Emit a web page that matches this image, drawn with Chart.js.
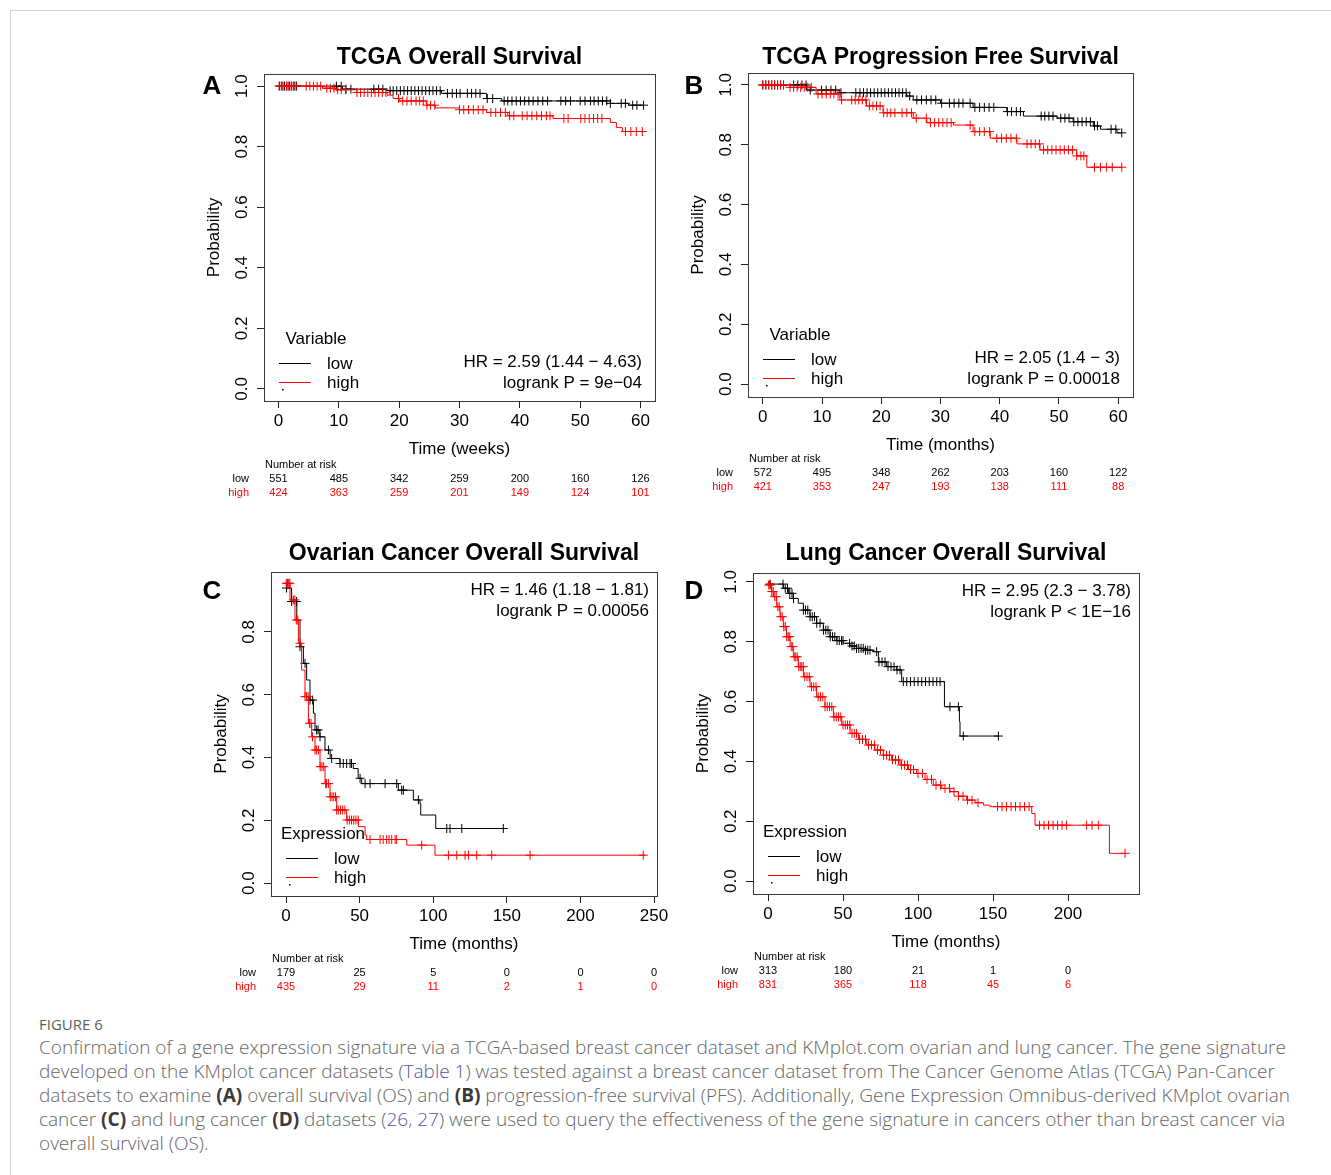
<!DOCTYPE html>
<html>
<head>
<meta charset="utf-8">
<script src="https://cdn.jsdelivr.net/npm/chart.js@4.4.1/dist/chart.umd.min.js"></script>
<style>
  html, body { margin: 0; padding: 0; background: #fff; }
  body { width: 1331px; height: 1175px; position: relative; overflow: hidden; }
  .frame { position: absolute; left: 10px; top: 10px; width: 1400px; height: 1300px;
           border-left: 1px solid #d4d4d4; border-top: 1px solid #d4d4d4; }
  canvas.km { position: absolute; }
  .fig { position: absolute; left: 39px; top: 1014px; font: 15px/20px "Open Sans", sans-serif; color: #5e5e5e; }
  .caption { position: absolute; left: 39px; top: 1035px; font: 300 19px/24px "Open Sans", sans-serif; color: #666; white-space: nowrap; }
  .caption b { color: #3a3a3a; font-weight: 700; }
  .caption .lnk { color: #4f55a8; }
</style>
</head>
<body>
<div class="frame"></div>
<canvas id="pA" class="km"></canvas>
<canvas id="pB" class="km"></canvas>
<canvas id="pC" class="km"></canvas>
<canvas id="pD" class="km"></canvas>
<div class="fig">FIGURE 6</div>
<div class="caption">Confirmation of a gene expression signature via a TCGA-based breast cancer dataset and KMplot.com ovarian and lung cancer. The gene signature<br>developed on the KMplot cancer datasets (<span class="lnk">Table 1</span>) was tested against a breast cancer dataset from The Cancer Genome Atlas (TCGA) Pan-Cancer<br>datasets to examine <b>(A)</b> overall survival (OS) and <b>(B)</b> progression-free survival (PFS). Additionally, Gene Expression Omnibus-derived KMplot ovarian<br>cancer <b>(C)</b> and lung cancer <b>(D)</b> datasets (<span class="lnk">26</span>, <span class="lnk">27</span>) were used to query the effectiveness of the gene signature in cancers other than breast cancer via<br>overall survival (OS).</div>
<script>
// ---- Panel A: TCGA overall survival (weeks)
const aXTicks = [0, 10, 20, 30, 40, 50, 60];
const aYTicks = [0, 0.2, 0.4, 0.6, 0.8, 1.0];
const aLowT = [0, 10.6, 18, 27, 34.5, 37, 55, 58, 60.5];
const aLowS = [1, 0.99, 0.985, 0.976, 0.959, 0.951, 0.943, 0.937, 0.937];
const aHighT = [0, 7.3, 9.6, 13, 18, 19, 20, 24.5, 26, 30, 34.5, 38, 45.5, 55, 56, 57, 60.3];
const aHighS = [1, 0.993, 0.988, 0.979, 0.970, 0.959, 0.951, 0.937, 0.928, 0.922, 0.913, 0.902, 0.893, 0.880, 0.863, 0.85, 0.85];
const aLowCens = [0.2, 0.6, 1, 1.4, 1.8, 2.2, 2.6, 3, 9.6, 10.4, 11.2, 12, 15.8, 16.6, 17.3, 18.5, 19, 19.6, 20.2, 20.8, 21.4, 22, 22.6, 23.2, 23.8, 24.4, 25, 25.6, 26.2, 26.8, 28, 28.8, 29.5, 30.1, 31.3, 32, 32.7, 33.4, 34.6, 35.5, 37.4, 38, 38.7, 39.4, 40.1, 40.8, 41.5, 42.2, 43, 43.8, 44.6, 46.8, 47.6, 48.4, 50, 50.8, 51.7, 52.3, 53, 53.7, 54.4, 55, 56.8, 57.5, 58.7, 59.4, 60.5];
const aHighCens = [0.1, 0.5, 0.9, 1.3, 1.7, 2.1, 2.5, 2.9, 4.6, 5.2, 5.8, 6.4, 7, 8, 8.6, 9.2, 9.8, 10.4, 11.1, 13, 13.6, 14.2, 14.8, 15.4, 16, 16.6, 17.2, 17.8, 19.9, 20.6, 21.3, 22, 22.8, 23.4, 24, 24.6, 25.2, 25.9, 30, 30.7, 31.5, 32.3, 33.1, 33.9, 35.2, 36, 36.8, 37.6, 38.3, 39, 40.4, 41.2, 42, 42.8, 43.6, 44.4, 45, 47.3, 48, 50.1, 50.8, 51.5, 52.2, 52.9, 53.6, 57.5, 58.4, 59.3, 60.3];
const aRiskLow = [551, 485, 342, 259, 200, 160, 126];
const aRiskHigh = [424, 363, 259, 201, 149, 124, 101];

// ---- Panel B: TCGA progression free survival (months)
const bXTicks = [0, 10, 20, 30, 40, 50, 60];
const bYTicks = [0, 0.2, 0.4, 0.6, 0.8, 1.0];
const bLowT = [0, 7.4, 13, 24.3, 25.4, 30, 35.5, 41.2, 44, 49.7, 52.4, 55.8, 57, 59.8, 60.6];
const bLowS = [1, 0.983, 0.974, 0.963, 0.950, 0.939, 0.925, 0.911, 0.896, 0.889, 0.877, 0.863, 0.852, 0.84, 0.84];
const bHighT = [0, 4.6, 9, 13, 17.5, 20.3, 25.4, 27.7, 32.2, 35.5, 38.4, 42.9, 46.8, 53, 54.7, 60.6];
const bHighS = [1, 0.992, 0.97, 0.95, 0.93, 0.907, 0.889, 0.874, 0.866, 0.844, 0.822, 0.803, 0.783, 0.763, 0.725, 0.725];
const bLowCens = [0, 0.5, 1, 1.5, 2, 2.5, 3, 3.5, 5.2, 5.9, 6.6, 7.3, 8, 9.9, 10.7, 11.5, 12.3, 13.2, 15.7, 16.4, 17, 17.6, 18.2, 18.8, 19.4, 20, 20.6, 21.2, 21.8, 22.4, 23, 23.6, 24.2, 24.8, 26, 26.8, 27.6, 28.4, 29.2, 30.2, 31.5, 32.3, 33.1, 33.8, 35, 35.8, 36.6, 37.4, 38.2, 39, 41.3, 42, 42.8, 43.5, 47, 47.6, 48.3, 49, 50.3, 51, 51.7, 52.5, 53.2, 53.9, 54.6, 55.3, 56, 56.5, 58.8, 59.6, 60.6];
const bHighCens = [0, 0.5, 1, 1.5, 2, 2.5, 3, 3.5, 4.6, 5.2, 5.8, 6.4, 7, 7.6, 8.2, 9.3, 10, 10.7, 11.4, 12, 12.7, 13.3, 15, 15.6, 16.2, 16.8, 17.4, 18, 18.6, 19.2, 19.8, 20.4, 21, 21.6, 22.3, 23.5, 24.3, 25.1, 25.9, 27.6, 28.3, 29, 29.7, 30.4, 31.1, 31.8, 35, 35.8, 36.6, 37.4, 38.3, 39.5, 40.3, 41.1, 41.9, 42.8, 44.6, 45.3, 46, 46.7, 47.4, 48.1, 48.8, 49.5, 50.2, 50.9, 51.6, 52.3, 53, 53.7, 54.2, 56, 57, 58, 59, 60.6];
const bRiskLow = [572, 495, 348, 262, 203, 160, 122];
const bRiskHigh = [421, 353, 247, 193, 138, 111, 88];

// ---- Panel C: ovarian cancer overall survival (months)
const cXTicks = [0, 50, 100, 150, 200, 250];
const cYTicks = [0, 0.2, 0.4, 0.6, 0.8];
const cLowT = [0, 3.8, 7.3, 9.5, 11.8, 14, 16.3, 18.6, 19.7, 23, 26.5, 30, 36.7, 45.7, 49, 51.4, 76.3, 86.5, 91, 91.5, 101.7, 148.8];
const cLowS = [0.94, 0.897, 0.838, 0.753, 0.700, 0.647, 0.583, 0.541, 0.488, 0.466, 0.424, 0.397, 0.381, 0.365, 0.334, 0.317, 0.296, 0.265, 0.254, 0.217, 0.174, 0.174];
const cHighT = [0, 2.7, 6.1, 8.4, 10.6, 12.9, 15.2, 17.4, 19.7, 23.1, 26.5, 29.9, 34.4, 41.2, 49.1, 53.7, 54.8, 82, 101.2, 244];
const cHighS = [0.955, 0.902, 0.838, 0.764, 0.679, 0.594, 0.509, 0.466, 0.424, 0.371, 0.317, 0.275, 0.233, 0.201, 0.180, 0.153, 0.139, 0.121, 0.089, 0.089];
const cLowCens = [0.3, 3.8, 7.2, 9.5, 12.9, 16.3, 18.1, 20.8, 21.8, 23.1, 28.8, 31, 36.7, 38.9, 41.2, 43.5, 44.5, 50.3, 53.7, 57.1, 67.3, 75.2, 78.6, 79.7, 89.9, 109.2, 111.4, 119.4, 147.6];
const cHighCens = [0.2, 1, 1.8, 2.6, 5, 6, 7, 8, 9.5, 12.9, 14, 15, 16, 17, 18, 19.7, 20.8, 22, 23.2, 24.4, 25.6, 26.8, 27.6, 28.8, 30, 31.2, 32.4, 33.6, 34.4, 35.5, 37, 38.5, 40, 41.5, 43, 44.5, 46, 47.5, 49, 57.1, 63.9, 66, 68.4, 70, 71.8, 74.1, 75.2, 92.2, 110.3, 116, 121.6, 123.9, 129.5, 139.7, 165.8, 242.7];
const cRiskLow = [179, 25, 5, 0, 0, 0];
const cRiskHigh = [435, 29, 11, 2, 1, 0];

// ---- Panel D: lung cancer overall survival (months)
const dXTicks = [0, 50, 100, 150, 200];
const dYTicks = [0, 0.2, 0.4, 0.6, 0.8, 1.0];
const dLowT = [0, 1.3, 10.2, 13.6, 16.9, 20.2, 23.6, 28, 32.4, 36.9, 41.3, 45.8, 50.2, 54.7, 59, 64.7, 70.2, 73.6, 79.1, 85.8, 89.1, 117.6, 127.6, 128, 153.6];
const dLowS = [1, 0.993, 0.979, 0.962, 0.945, 0.929, 0.906, 0.884, 0.862, 0.839, 0.817, 0.804, 0.795, 0.786, 0.778, 0.772, 0.767, 0.733, 0.717, 0.706, 0.667, 0.583, 0.533, 0.485, 0.485];
const dHighT = [0, 0.2, 2.4, 3.6, 5.8, 8, 10.2, 12.4, 14.7, 16.9, 20.2, 23.6, 28, 32.4, 38, 43.6, 49.1, 54.7, 60.2, 65.8, 71.3, 76.9, 82.4, 88, 93.6, 99.1, 104.7, 110.2, 115.8, 121.3, 126.9, 132.4, 138, 143.6, 148, 175.8, 178, 227.6, 238];
const dHighS = [1, 0.99, 0.968, 0.951, 0.917, 0.884, 0.851, 0.817, 0.784, 0.750, 0.717, 0.683, 0.650, 0.616, 0.583, 0.549, 0.522, 0.494, 0.474, 0.455, 0.438, 0.421, 0.405, 0.388, 0.373, 0.360, 0.340, 0.321, 0.310, 0.299, 0.284, 0.271, 0.262, 0.254, 0.249, 0.226, 0.187, 0.093, 0.093];
const dLowCens = [1.4, 10, 11.5, 13, 14.5, 16, 17, 23.6, 25, 26.5, 28, 29.5, 31, 32.5, 34.7, 37, 38.5, 40, 41.5, 43, 44.5, 46, 47.5, 49, 50, 54.4, 56, 57.5, 59, 60.5, 62, 63.5, 65, 66.5, 68, 72.4, 74, 76, 78, 80, 82, 84, 86, 88, 90.2, 92.5, 95, 97.5, 100, 102.5, 105, 107.5, 110, 112.5, 114.7, 121.3, 126.9, 130.2, 153.6];
const dHighCens = [0.5, 1.5, 2.5, 3.5, 4.5, 5.5, 6.5, 7.5, 8.5, 9.5, 10.5, 11.5, 12.5, 13.5, 14.5, 15.5, 16.5, 17.5, 18.5, 19.5, 20.5, 21.5, 22.5, 23.5, 24.5, 26, 27.5, 29, 30.5, 32, 33.5, 35, 36.5, 38, 39.5, 41, 42.5, 44, 45.5, 47, 48.5, 50, 51.5, 53, 54.5, 56, 57.5, 59, 61, 63, 65, 67, 69, 71, 73, 75, 77, 79, 81, 83, 85, 87, 89, 91, 93, 95, 97, 100, 103, 106, 109, 112, 115, 118, 121, 124, 127, 130, 133, 136, 140, 153, 156, 159, 162, 165, 168, 171, 174, 181, 184, 187, 190, 193, 196, 199, 212.4, 216, 220.2, 238];
const dRiskLow = [313, 180, 21, 1, 0];
const dRiskHigh = [831, 365, 118, 45, 6];

const FONT = '"Liberation Sans", Arial, Helvetica, sans-serif';
const RED = '#ff0000';

const panels = [
  { id: 'pA', letter: 'A', title: 'TCGA Overall Survival', xTitle: 'Time (weeks)', legTitle: 'Variable',
    hr: ['HR = 2.59 (1.44 \u2212 4.63)', 'logrank P = 9e\u221204'], hrPos: 'bottom',
    box: [264, 74, 655, 401], xr: [-2.4, 62.4], yr: [-0.04, 1.04], titleDy: -16, letterAt: [-52, 13], riskDy: 2,
    xTicks: aXTicks, yTicks: aYTicks, low: [aLowT, aLowS, aLowCens], high: [aHighT, aHighS, aHighCens],
    riskLow: aRiskLow, riskHigh: aRiskHigh },
  { id: 'pB', letter: 'B', title: 'TCGA Progression Free Survival', xTitle: 'Time (months)', legTitle: 'Variable',
    hr: ['HR = 2.05 (1.4 \u2212 3)', 'logrank P = 0.00018'], hrPos: 'bottom',
    box: [748, 73, 1133, 397], xr: [-2.5, 62.5], yr: [-0.043, 1.04], titleDy: -15, letterAt: [-54, 14], riskDy: 0,
    xTicks: bXTicks, yTicks: bYTicks, low: [bLowT, bLowS, bLowCens], high: [bHighT, bHighS, bHighCens],
    riskLow: bRiskLow, riskHigh: bRiskHigh },
  { id: 'pC', letter: 'C', title: 'Ovarian Cancer Overall Survival', xTitle: 'Time (months)', legTitle: 'Expression',
    hr: ['HR = 1.46 (1.18 \u2212 1.81)', 'logrank P = 0.00056'], hrPos: 'top',
    box: [271, 572, 657, 896], xr: [-10.2, 252], yr: [-0.041, 0.991], titleDy: -18, letterAt: [-59, 20], riskDy: 1,
    xTicks: cXTicks, yTicks: cYTicks, low: [cLowT, cLowS, cLowCens], high: [cHighT, cHighS, cHighCens],
    riskLow: cRiskLow, riskHigh: cRiskHigh },
  { id: 'pD', letter: 'D', title: 'Lung Cancer Overall Survival', xTitle: 'Time (months)', legTitle: 'Expression',
    hr: ['HR = 2.95 (2.3 \u2212 3.78)', 'logrank P < 1E\u221216'], hrPos: 'top',
    box: [753, 573, 1139, 894], xr: [-10, 247.3], yr: [-0.043, 1.03], titleDy: -19, letterAt: [-59, 19], riskDy: 1,
    xTicks: dXTicks, yTicks: dYTicks, low: [dLowT, dLowS, dLowCens], high: [dHighT, dHighS, dHighCens],
    riskLow: dRiskLow, riskHigh: dRiskHigh }
];

// survival value of a step curve at time t (censor marks sit on the curve)
function stepAt(T, S, t) {
  let s = S[0];
  for (let i = 0; i < T.length; i++) if (T[i] <= t) s = S[i];
  return s;
}
const curvePts = (T, S) => T.map((t, i) => ({ x: t, y: S[i] }));
const censorPts = (T, S, C) => C.map(t => ({ x: t, y: stepAt(T, S, t) }));

function decor(p) {
  return {
    id: 'decor' + p.letter,
    afterDraw(chart) {
      const ctx = chart.ctx, ca = chart.chartArea;
      const xs = chart.scales.x, ys = chart.scales.y;
      ctx.save();
      // box
      ctx.strokeStyle = '#3a3a3a';
      ctx.lineWidth = 1;
      ctx.strokeRect(Math.round(ca.left) + 0.5, Math.round(ca.top) + 0.5,
                     Math.round(ca.right - ca.left), Math.round(ca.bottom - ca.top));
      // rotated y tick labels
      ctx.fillStyle = '#000';
      ctx.font = '17px ' + FONT;
      ctx.textAlign = 'center';
      ctx.textBaseline = 'middle';
      ys.ticks.forEach(t => {
        ctx.save();
        ctx.translate(ca.left - 22, ys.getPixelForValue(t.value));
        ctx.rotate(-Math.PI / 2);
        ctx.fillText(t.value.toFixed(1), 0, 0);
        ctx.restore();
      });
      // title and panel letter
      ctx.font = 'bold 23px ' + FONT;
      ctx.fillText(p.title, (ca.left + ca.right) / 2, ca.top + p.titleDy);
      ctx.font = 'bold 26px ' + FONT;
      ctx.fillText(p.letter, ca.left + p.letterAt[0], ca.top + p.letterAt[1]);
      // legend
      ctx.font = '17px ' + FONT;
      ctx.fillText(p.legTitle, ca.left + 52, ca.bottom - 62);
      ctx.textAlign = 'left';
      ctx.fillText('low', ca.left + 63, ca.bottom - 37);
      ctx.fillText('high', ca.left + 63, ca.bottom - 18);
      ctx.lineWidth = 1;
      ctx.strokeStyle = '#000';
      ctx.beginPath(); ctx.moveTo(ca.left + 15, ca.bottom - 37.5); ctx.lineTo(ca.left + 47, ca.bottom - 37.5); ctx.stroke();
      ctx.strokeStyle = RED;
      ctx.beginPath(); ctx.moveTo(ca.left + 15, ca.bottom - 18.5); ctx.lineTo(ca.left + 47, ca.bottom - 18.5); ctx.stroke();
      ctx.fillStyle = '#000';
      ctx.fillRect(ca.left + 18, ca.bottom - 12, 1.5, 1.5);
      // HR text
      ctx.textAlign = 'right';
      if (p.hrPos === 'bottom') {
        ctx.fillText(p.hr[0], ca.right - 13, ca.bottom - 39);
        ctx.fillText(p.hr[1], ca.right - 13, ca.bottom - 18);
      } else {
        ctx.fillText(p.hr[0], ca.right - 8, ca.top + 18);
        ctx.fillText(p.hr[1], ca.right - 8, ca.top + 39);
      }
      // number at risk table
      const rb = ca.bottom + p.riskDy;
      ctx.font = '11px ' + FONT;
      ctx.textAlign = 'left';
      ctx.fillText('Number at risk', ca.left + 1, rb + 62);
      ctx.textAlign = 'right';
      ctx.fillText('low', ca.left - 15, rb + 76);
      ctx.fillStyle = RED;
      ctx.fillText('high', ca.left - 15, rb + 90);
      ctx.textAlign = 'center';
      p.xTicks.forEach((t, i) => {
        const x = xs.getPixelForValue(t);
        ctx.fillStyle = '#000';
        ctx.fillText(String(p.riskLow[i]), x, rb + 76);
        ctx.fillStyle = RED;
        ctx.fillText(String(p.riskHigh[i]), x, rb + 90);
      });
      ctx.restore();
    }
  };
}

panels.forEach(p => {
  const [l, t, r, b] = p.box;
  const cv = document.getElementById(p.id);
  const W = r - l + 95, H = b - t + 150;
  cv.width = W; cv.height = H;
  cv.style.left = (l - 80) + 'px';
  cv.style.top = (t - 50) + 'px';
  cv.style.width = W + 'px';
  cv.style.height = H + 'px';

  const axisGrid = { drawOnChartArea: false, drawTicks: true, tickLength: 7, color: '#222', lineWidth: 1 };
  new Chart(cv.getContext('2d'), {
    type: 'scatter',
    data: {
      datasets: [
        { data: curvePts(p.high[0], p.high[1]), showLine: true, stepped: true, borderColor: RED, borderWidth: 1, pointRadius: 0 },
        { data: censorPts(p.high[0], p.high[1], p.high[2]), pointStyle: 'cross', pointRadius: 4.5, borderColor: RED, borderWidth: 1 },
        { data: curvePts(p.low[0], p.low[1]), showLine: true, stepped: true, borderColor: '#000', borderWidth: 1, pointRadius: 0 },
        { data: censorPts(p.low[0], p.low[1], p.low[2]), pointStyle: 'cross', pointRadius: 4.5, borderColor: '#000', borderWidth: 1 }
      ]
    },
    options: {
      responsive: false,
      animation: false,
      events: [],
      layout: { padding: { left: 0, top: 50, right: 15, bottom: 41 } },
      plugins: { legend: { display: false }, tooltip: { enabled: false }, title: { display: false } },
      scales: {
        x: {
          type: 'linear', min: p.xr[0], max: p.xr[1],
          afterBuildTicks: s => { s.ticks = p.xTicks.map(v => ({ value: v })); },
          afterFit: s => { s.height = 59; },
          grid: axisGrid,
          border: { display: false },
          ticks: { color: '#000', font: { family: FONT, size: 17 }, padding: 3, maxRotation: 0, autoSkip: false },
          title: { display: true, text: p.xTitle, color: '#000', font: { family: FONT, size: 17 }, padding: { top: 0, bottom: 0 } }
        },
        y: {
          type: 'linear', min: p.yr[0], max: p.yr[1],
          afterBuildTicks: s => { s.ticks = p.yTicks.map(v => ({ value: v })); },
          afterFit: s => { s.width = 80; },
          grid: axisGrid,
          border: { display: false },
          ticks: { display: false },
          title: { display: true, text: 'Probability', color: '#000', font: { family: FONT, size: 17 }, padding: { top: 20, bottom: 0 } }
        }
      }
    },
    plugins: [decor(p)]
  });
});
</script>
</body>
</html>
